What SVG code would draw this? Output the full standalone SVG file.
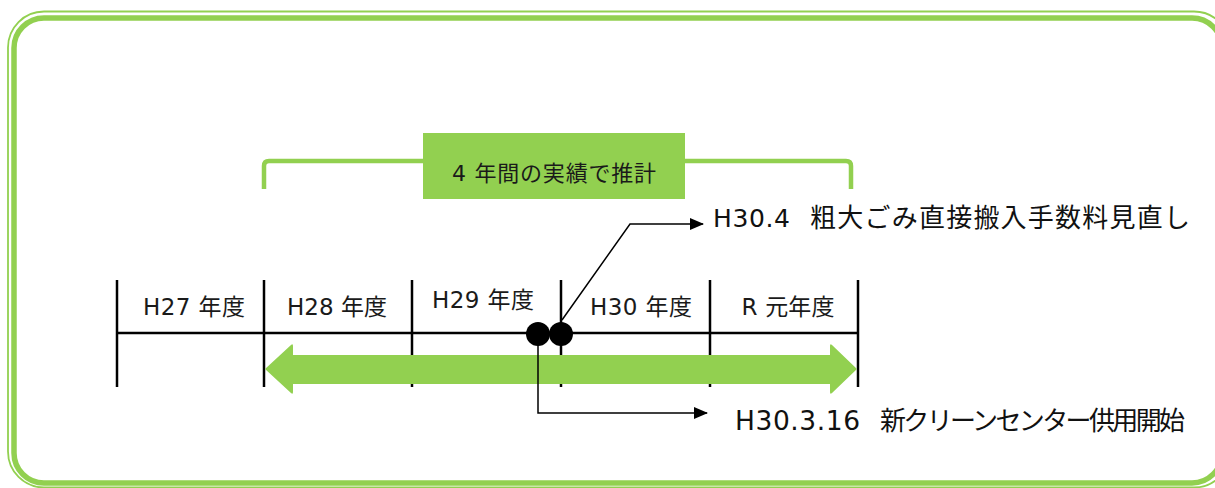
<svg xmlns="http://www.w3.org/2000/svg" width="1215" height="488" viewBox="0 0 1215 488">
<style>
.frame{fill:none;stroke:#92D050}
.tick{stroke:#000;stroke-width:2.5;fill:none}
.lbl{font-family:"DejaVu Sans","Noto Sans CJK JP",sans-serif;font-size:23px;fill:#1a1a1a;text-anchor:middle}
.note{font-family:"DejaVu Sans","Noto Sans CJK JP",sans-serif;font-size:25px;fill:#111}
.cn{font-family:"Noto Sans CJK JP",sans-serif;font-size:26px}
.conn{stroke:#000;stroke-width:1.5;fill:none}
</style>
<defs>
<marker id="ah" markerWidth="14" markerHeight="12" refX="13" refY="6" orient="auto" markerUnits="userSpaceOnUse">
<path d="M0,0 L14,6 L0,12 Z" fill="#000"/>
</marker>
</defs>
<rect width="1215" height="488" fill="#fff"/>
<g id="frame">
<rect class="frame" x="8" y="11.5" width="1222" height="476" rx="36" stroke-width="1.8"/>
<rect class="frame" x="14" y="18" width="1208" height="465" rx="30" stroke-width="5.5"/>
</g>
<g id="bracket">
<path d="M264 189 V166 Q264 161 269 161 H846 Q851 161 851 166 V189" fill="none" stroke="#92D050" stroke-width="4.5"/>
</g>
<g id="label-box">
<rect x="423" y="133" width="262" height="66" fill="#92D050"/>
<text x="554" y="181" class="lbl" style="font-size:22px" textLength="204">4 年間の実績で推計</text>
</g>
<g id="timeline">
<line class="tick" x1="117" y1="333" x2="858" y2="333"/>
<line class="tick" x1="117" y1="280" x2="117" y2="387"/>
<line class="tick" x1="264" y1="280" x2="264" y2="387"/>
<line class="tick" x1="412" y1="280" x2="412" y2="387"/>
<line class="tick" x1="561" y1="280" x2="561" y2="387"/>
<line class="tick" x1="710" y1="280" x2="710" y2="387"/>
<line class="tick" x1="858" y1="280" x2="858" y2="387"/>
</g>
<g id="years">
<text class="lbl" x="194" y="315" textLength="102">H27 年度</text>
<text class="lbl" x="337" y="315" textLength="100">H28 年度</text>
<text class="lbl" x="483" y="308" textLength="102">H29 年度</text>
<text class="lbl" x="641" y="315" textLength="102">H30 年度</text>
<text class="lbl" x="788" y="315" textLength="93">R 元年度</text>
</g>
<g id="period-arrow">
<path d="M265 369 L291 345 Q293 343 293 346 L293 355 L830 355 L830 346 Q830 343 832 345 L857 369 L832 393 Q830 395 830 392 L830 384 L293 384 L293 392 Q293 395 291 393 Z" fill="#92D050"/>
</g>
<g id="connectors">
<polyline class="conn" points="562,320 630,224 703,224" marker-end="url(#ah)"/>
<polyline class="conn" points="538,334 538,413 707,413" marker-end="url(#ah)"/>
</g>
<g id="markers">
<circle cx="538" cy="334" r="12" fill="#000"/>
<circle cx="561" cy="334" r="12" fill="#000"/>
</g>
<g id="note-h304">
<text class="note" y="227"><tspan x="713" textLength="77">H30.4</tspan><tspan class="cn" x="810" textLength="380">粗大ごみ直接搬入手数料見直し</tspan></text>
</g>
<g id="note-h30316">
<text class="note" y="430" style="font-size:26.5px"><tspan x="735" textLength="125">H30.3.16</tspan><tspan class="cn" x="880" textLength="305">新クリーンセンター供用開始</tspan></text>
</g>
</svg>
